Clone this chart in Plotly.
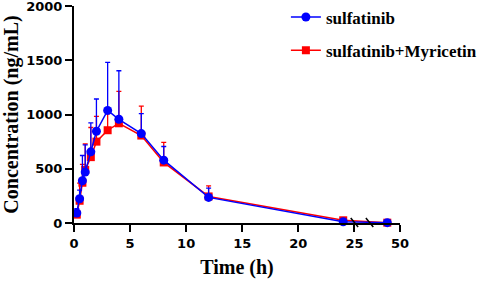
import plotly.graph_objects as go

# ---- data ----
time_h = [0.25, 0.5, 0.75, 1, 1.5, 2, 3, 4, 6, 8, 12, 24, 48]
sulfatinib = [92, 223, 389, 469, 656, 846, 1038, 956, 824, 579, 236, 12, 3]
sulfatinib_sd = [40, 80, 233, 251, 266, 297, 442, 447, 184, 126, 86, 10, 2]
combo = [77, 205, 371, 490, 607, 750, 855, 919, 806, 558, 245, 25, 3]
combo_sd = [40, 163, 170, 239, 273, 233, 150, 294, 272, 186, 98, 12, 2]
x_tick_vals = [0, 5, 10, 15, 20, 25, 50]
x_tick_text = ["0", "5", "10", "15", "20", "25", "50"]
y_tick_vals = [0, 500, 1000, 1500, 2000]

# ---- broken x axis scale: segment 1 [0,25.1], segment 2 [45,50] ----
SEG1_END = 25.1
SEG2_START = 45.0
SEG2_POS = 26.23      # position (in segment-1 units) where segment 2 starts
SEG2_SCALE = 0.5665   # compression of segment 2


def xs(t):
    if t <= SEG1_END:
        return t
    return SEG2_POS + (t - SEG2_START) * SEG2_SCALE


u = [xs(t) for t in time_h]

BLUE = "#0000FF"
RED = "#FF0000"

fig = go.Figure()
fig.add_trace(go.Scatter(
    x=u, y=combo, mode="lines+markers", name="sulfatinib+Myricetin",
    line=dict(color=RED, width=1.5),
    marker=dict(symbol="square", size=8, color=RED),
    error_y=dict(type="data", array=combo_sd, arrayminus=[0] * len(combo_sd),
                 symmetric=False, color=RED, thickness=1.3, width=2.5),
    cliponaxis=False, legendgroup="b", legendrank=2,
))
fig.add_trace(go.Scatter(
    x=u, y=sulfatinib, mode="lines+markers", name="sulfatinib",
    line=dict(color=BLUE, width=1.5),
    marker=dict(symbol="circle", size=9, color=BLUE),
    error_y=dict(type="data", array=sulfatinib_sd, arrayminus=[0] * len(sulfatinib_sd),
                 symmetric=False, color=BLUE, thickness=1.3, width=2.5),
    cliponaxis=False, legendgroup="a", legendrank=1,
))

# axis break marks
px_y = 1 / 217.6
for bx in [25.0, 26.35]:
    fig.add_shape(type="line", xref="x", yref="paper",
                  x0=bx - 0.33, x1=bx + 0.33, y0=5 * px_y, y1=-4 * px_y,
                  line=dict(color="black", width=1.5))

tickfont = dict(family="DejaVu Sans", size=13, color="black", weight="bold")
titlefont = dict(family="Liberation Serif", size=20, color="black", weight="bold")

fig.update_layout(
    width=484, height=284,
    margin=dict(l=74, r=84, t=6, b=61, autoexpand=False),
    paper_bgcolor="white", plot_bgcolor="white",
    showlegend=True,
    legend=dict(x=0.65, y=1.03, xanchor="left", yanchor="top",
                traceorder="grouped", tracegroupgap=8,
                font=dict(family="Liberation Serif", size=17, color="black", weight="bold"),
                bgcolor="rgba(0,0,0,0)"),
    xaxis=dict(range=[0, xs(50)], tickmode="array",
               tickvals=[xs(v) for v in x_tick_vals], ticktext=x_tick_text,
               showline=True, linecolor="black", linewidth=2,
               ticks="outside", ticklen=7, tickwidth=2, tickcolor="black",
               showgrid=False, zeroline=False, automargin=False,
               ticklabeloverflow="allow",
               tickfont=tickfont,
               title=dict(text="Time (h)", standoff=10, font=titlefont)),
    yaxis=dict(range=[0, 2000], tickmode="array", tickvals=y_tick_vals,
               showline=True, linecolor="black", linewidth=2,
               ticks="outside", ticklen=7, tickwidth=2, tickcolor="black",
               showgrid=False, zeroline=False, automargin=False,
               ticklabeloverflow="allow",
               tickfont=tickfont,
               title=dict(text="Concentration (ng/mL)", standoff=6, font=titlefont)),
)

fig.write_html("out.html", config={"displayModeBar": False},
               post_script="document.body.style.margin='0px';document.body.style.overflow='hidden';")
